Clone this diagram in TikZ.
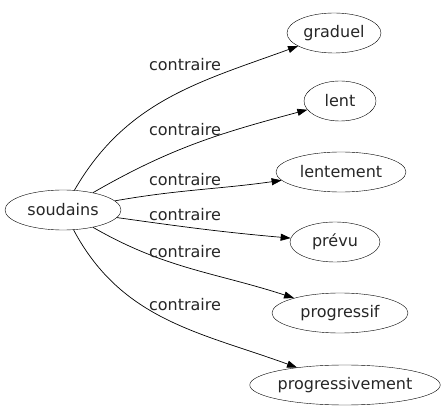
\documentclass[tikz,border=0pt]{standalone}
\usepackage{fontspec}
\setmainfont{DejaVu Sans}
\usetikzlibrary{shapes.geometric,arrows.meta}
\begin{document}
\begin{tikzpicture}[x=1pt,y=-1pt,
  word/.style={draw,ellipse,inner sep=0pt,minimum height=40pt,font=\fontsize{16}{19}\selectfont,text=black!85},
  lbl/.style={font=\fontsize{16}{19}\selectfont,text=black!85,inner sep=0pt},
  rel/.style={-{Triangle[length=10pt,width=7pt]},line width=0.7pt}]
\useasboundingbox (0,0) rectangle (444,419);
\node[word,minimum width=116pt] (s) at (63,210) {soudains};
\node[word,minimum width=94pt] (g) at (334,33) {graduel};
\node[word,minimum width=72pt] (l) at (340,101) {lent};
\node[word,minimum width=130pt] (lt) at (341,172) {lentement};
\node[word,minimum width=90pt] (p) at (335,242) {prévu};
\node[word,minimum width=136pt] (pf) at (340,313) {progressif};
\node[word,minimum width=190pt] (pv) at (345,385) {progressivement};
\draw[rel] (s) to[out=60,in=200] (g);
\draw[rel] (s) to[out=30,in=195] (l);
\draw[rel] (s) to[out=10,in=188] (lt);
\draw[rel] (s) to[out=-8,in=175] (p);
\draw[rel] (s) to[out=-30,in=162] (pf);
\draw[rel] (s) to[out=-62,in=160] (pv);
\node[lbl] (c1) at (185,65) {contraire};
\node[lbl] (c2) at (185,130) {contraire};
\node[lbl] (c3) at (185,180) {contraire};
\node[lbl] (c4) at (185,215) {contraire};
\node[lbl] (c5) at (185,252) {contraire};
\node[lbl] (c6) at (185,305) {contraire};
\end{tikzpicture}
\end{document}
